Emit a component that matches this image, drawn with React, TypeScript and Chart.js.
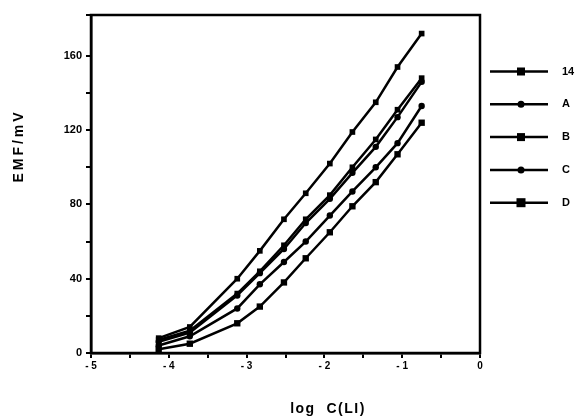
import React, { useEffect, useRef } from 'react';
import { Chart, registerables } from 'chart.js';

Chart.register(...registerables);

// log C(Li) values (x)
const logC = [-4.13, -3.73, -3.12, -2.83, -2.52, -2.24, -1.93, -1.64, -1.34, -1.06, -0.75];
// EMF / mV for each electrode
const emf14 = [8, 14, 40, 55, 72, 86, 102, 119, 135, 154, 172];
const emfA = [4, 9, 24, 37, 49, 60, 74, 87, 100, 113, 133];
const emfB = [7, 12, 32, 44, 58, 72, 85, 100, 115, 131, 148];
const emfC = [6, 11, 31, 43, 56, 70, 83, 97, 111, 127, 146];
const emfD = [2, 5, 16, 25, 38, 51, 65, 79, 92, 107, 124];

const seriesNames = ['14', 'A', 'B', 'C', 'D'];
const seriesValues = [emf14, emfA, emfB, emfC, emfD];
const seriesStyles = ['rect', 'circle', 'rect', 'circle', 'rect'];
const seriesRadius = [4, 3.2, 4, 3.2, 4.5];

const xTitle = 'log  C(LI)';
const yTitle = 'EMF/mV';

const FONT = '"Liberation Sans", Arial, sans-serif';

const framePlugin = {
  id: 'frameAndLegend',
  afterDraw(chart: any) {
    const ctx = chart.ctx;
    const a = chart.chartArea;
    ctx.save();
    ctx.strokeStyle = '#000';
    ctx.lineWidth = 2.5;
    ctx.strokeRect(a.left, a.top, a.right - a.left, a.bottom - a.top);

    // axis titles
    ctx.fillStyle = '#000';
    ctx.textAlign = 'center';
    ctx.textBaseline = 'middle';
    ctx.save();
    ctx.font = `bold 14px ${FONT}`;
    (ctx as any).letterSpacing = '3px';
    ctx.translate(19, 146);
    ctx.rotate(-Math.PI / 2);
    ctx.fillText(yTitle, 0, 0);
    ctx.restore();
    ctx.save();
    ctx.font = `bold 14px ${FONT}`;
    (ctx as any).letterSpacing = '1.5px';
    ctx.fillText(xTitle, 328, 409);
    ctx.restore();

    // legend
    const rowTop = 71.5;
    const rowGap = 32.8;
    chart.data.datasets.forEach((ds: any, i: number) => {
      const y = rowTop + i * rowGap;
      ctx.strokeStyle = '#000';
      ctx.lineWidth = 2.5;
      ctx.beginPath();
      ctx.moveTo(490, y);
      ctx.lineTo(548, y);
      ctx.stroke();
      ctx.fillStyle = '#000';
      const r = ds.pointRadius;
      if (ds.pointStyle === 'rect') {
        ctx.fillRect(521 - r, y - r, 2 * r, 2 * r);
      } else {
        ctx.beginPath();
        ctx.arc(521, y, r + 0.3, 0, Math.PI * 2);
        ctx.fill();
      }
      ctx.font = `bold 11px ${FONT}`;
      ctx.textAlign = 'left';
      ctx.textBaseline = 'middle';
      ctx.fillText(ds.label, 562, y);
    });
    ctx.restore();
  },
};

export default function App() {
  const ref = useRef<HTMLCanvasElement | null>(null);

  useEffect(() => {
    if (!ref.current) return;
    const datasets = seriesNames.map((name, i) => ({
      label: name,
      data: logC.map((x, j) => ({ x, y: seriesValues[i][j] })),
      borderColor: '#000',
      backgroundColor: '#000',
      borderWidth: 2.5,
      pointStyle: seriesStyles[i],
      pointRadius: seriesRadius[i],
      pointBackgroundColor: '#000',
      pointBorderColor: '#000',
      pointBorderWidth: 0,
      tension: 0,
    }));

    const chart = new Chart(ref.current, {
      type: 'line',
      data: { datasets } as any,
      options: {
        animation: false,
        responsive: false,
        maintainAspectRatio: false,
        layout: { padding: { top: 15, right: 99, left: 0, bottom: 0 } },
        plugins: { legend: { display: false }, tooltip: { enabled: false } },
        scales: {
          x: {
            type: 'linear',
            min: -5,
            max: 0,
            ticks: {
              stepSize: 0.5,
              autoSkip: false,
              maxRotation: 0,
              padding: 2,
              color: '#000',
              font: { family: FONT, size: 10, weight: 'bold' },
              callback: (v: any) => {
                const n = Number(v);
                if (!Number.isInteger(n)) return '';
                return n < 0 ? '- ' + Math.abs(n) : String(n);
              },
            },
            grid: { drawOnChartArea: false, drawTicks: true, tickLength: 5, color: '#000', lineWidth: 2 },
            border: { display: true, color: '#000', width: 2.5 },
            afterFit: (scale: any) => {
              scale.height = 67;
            },
          },
          y: {
            type: 'linear',
            min: 0,
            max: 182,
            ticks: {
              stepSize: 20,
              autoSkip: false,
              padding: 4,
              color: '#000',
              font: { family: FONT, size: 11, weight: 'bold' },
              callback: (v: any) => (Number(v) % 40 === 0 ? String(v) : ''),
            },
            grid: { drawOnChartArea: false, drawTicks: true, tickLength: 5, color: '#000', lineWidth: 2 },
            border: { display: true, color: '#000', width: 2.5 },
            afterFit: (scale: any) => {
              scale.width = 91;
            },
          },
        },
      } as any,
      plugins: [framePlugin],
    });
    return () => chart.destroy();
  }, []);

  return (
    <div style={{ position: 'absolute', left: 0, top: 0, width: 579, height: 420, background: '#fff' }}>
      <canvas ref={ref} width={579} height={420} style={{ width: 579, height: 420 }} />
    </div>
  );
}
